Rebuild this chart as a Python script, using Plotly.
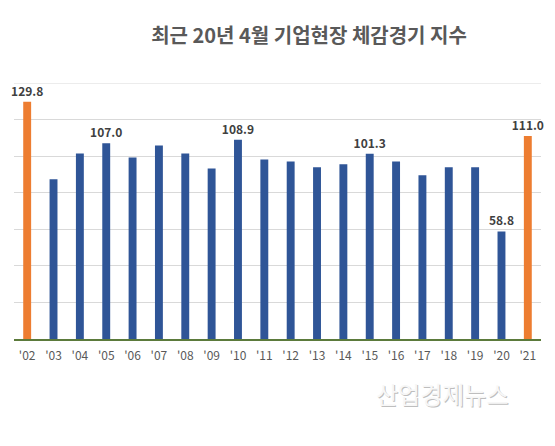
import plotly.graph_objects as go

# Data
years = ["'02", "'03", "'04", "'05", "'06", "'07", "'08", "'09", "'10", "'11",
         "'12", "'13", "'14", "'15", "'16", "'17", "'18", "'19", "'20", "'21"]
values = [129.8, 87.3, 101.5, 107.0, 99.3, 105.8, 101.5, 93.3, 108.9, 98.2,
          97.1, 93.9, 95.5, 101.3, 97.1, 89.5, 93.9, 93.9, 58.8, 111.0]
labelled = ["'02", "'05", "'10", "'15", "'20", "'21"]
highlight = ["'02", "'21"]

colors = ["#ED7D31" if y in highlight else "#2F5597" for y in years]
texts = [f"{v:.1f}" if y in labelled else "" for y, v in zip(years, values)]

# the page has an 8px body margin, so the figure is made 8px smaller
W, H = 547, 438
L, R, T, B = 6, 14, 75, 107

fig = go.Figure(go.Bar(
    x=years, y=values,
    marker=dict(color=colors, line=dict(width=0)),
    width=0.3,
    text=texts, textposition="outside", cliponaxis=False,
    textangle=0, constraintext="none",
    textfont=dict(family="Noto Sans CJK KR", size=12, color="#404040", weight="bold"),
))

# top gridline at 140 (edge of range is not drawn by plotly)
fig.add_hline(y=140, line=dict(color="#D9D9D9", width=1))

# watermark: gray shadow with light text on top
wm_x = (434 - L) / (W - L - R)
wm_y = ((H - B) - 385) / (H - T - B)
for dx, dy, col in [(1, -1, "#BEBEBE"), (0, 0, "#F7F7F7")]:
    fig.add_annotation(text="산업경제뉴스", x=wm_x, y=wm_y, xref="paper", yref="paper",
                       xanchor="center", yanchor="middle", xshift=dx, yshift=dy,
                       showarrow=False,
                       font=dict(family="Noto Sans CJK KR", size=24, color=col))

fig.update_layout(
    width=W, height=H,
    margin=dict(l=L, r=R, t=T, b=B),
    paper_bgcolor="white", plot_bgcolor="white",
    showlegend=False,
    title=dict(text="최근 20년 4월 기업현장 체감경기 지수", x=301 / W, xanchor="center",
               y=1 - 28 / H, yanchor="middle",
               font=dict(family="Noto Sans CJK KR", size=20, color="#595959", weight="bold")),
    xaxis=dict(showline=True, linecolor="#5B7A3B", linewidth=2, ticks="",
               ticklabelstandoff=5,
               tickfont=dict(family="Noto Sans CJK KR", size=12, color="#595959"),
               range=[-0.5, 19.5]),
    yaxis=dict(range=[0, 140], dtick=20, showticklabels=False, showgrid=True,
               gridcolor="#D9D9D9", gridwidth=1, zeroline=False),
)

fig.write_html("out.html")
